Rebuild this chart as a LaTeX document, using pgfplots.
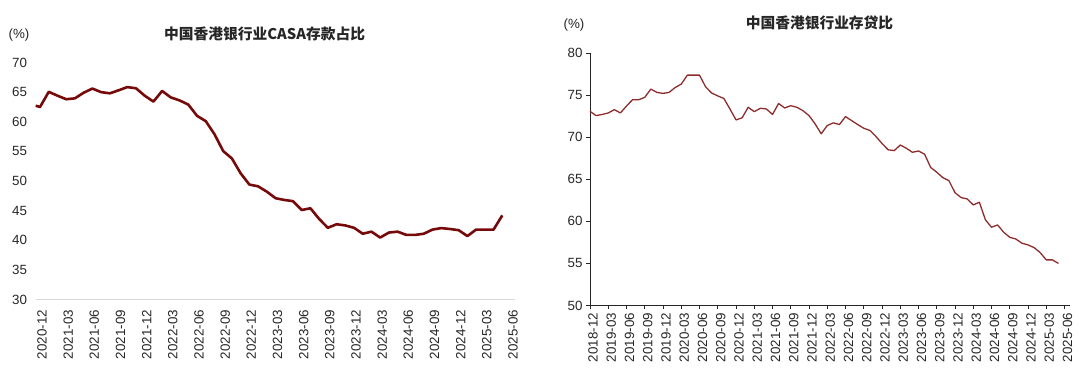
\documentclass[border=0pt]{standalone}
\usepackage{pgfplots}
\pgfplotsset{compat=1.18}
\usepackage{fontspec}
\setmainfont{Liberation Sans}
\newfontfamily\cjk{Noto Sans CJK SC}
\definecolor{leftline}{HTML}{760A0A}
\definecolor{rightline}{HTML}{8E2C2C}
\definecolor{txt}{HTML}{262626}
\pgfplotstableread{
x y
-0.5 62.7
0 62.5
1 65.05
2 64.4
3 63.8
4 63.95
5 64.9
6 65.6
7 65.0
8 64.8
9 65.3
10 65.85
11 65.65
12 64.4
13 63.4
14 65.2
15 64.1
16 63.6
17 62.9
18 61.0
19 60.1
20 57.9
21 55.05
22 53.8
23 51.3
24 49.4
25 49.1
26 48.2
27 47.1
28 46.8
29 46.6
30 45.1
31 45.4
32 43.6
33 42.1
34 42.7
35 42.5
36 42.1
37 41.1
38 41.45
39 40.45
40 41.3
41 41.45
42 40.9
43 40.9
44 41.1
45 41.8
46 42.05
47 41.9
48 41.7
49 40.7
50 41.8
51 41.8
52 41.8
53 44.2
}\casa
\pgfplotstableread{
x y
0 73.07
1 72.56
2 72.7
3 72.88
4 73.27
5 72.88
6 73.7
7 74.45
8 74.45
9 74.73
10 75.71
11 75.32
12 75.2
13 75.32
14 75.9
15 76.3
16 77.37
17 77.37
18 77.37
19 75.98
20 75.24
21 74.9
22 74.6
23 73.35
24 72.05
25 72.3
26 73.55
27 73.03
28 73.43
29 73.35
30 72.7
31 74.0
32 73.47
33 73.74
34 73.55
35 73.15
36 72.56
37 71.58
38 70.4
39 71.38
40 71.7
41 71.5
42 72.44
43 71.97
44 71.5
45 71.06
46 70.8
47 70.08
48 69.25
49 68.5
50 68.4
51 69.07
52 68.68
53 68.2
54 68.36
55 67.97
56 66.4
57 65.83
58 65.19
59 64.83
60 63.4
61 62.82
62 62.66
63 61.95
64 62.27
65 60.17
66 59.3
67 59.57
68 58.7
69 58.1
70 57.9
71 57.4
72 57.2
73 56.88
74 56.28
75 55.42
76 55.42
77 55.0
}\ldr
\begin{document}
\begin{tikzpicture}
\path[use as bounding box] (0bp,0bp) rectangle (1080bp,371bp);
\begin{axis}[
  at={(35.5bp,71.5bp)}, anchor=south west,
  scale only axis, width=479bp, height=237bp,
  xmin=-0.52, xmax=54.4, ymin=30, ymax=70,
  xtick={0,3,...,54},
  xticklabels={2020-12,2021-03,2021-06,2021-09,2021-12,2022-03,2022-06,2022-09,2022-12,2023-03,2023-06,2023-09,2023-12,2024-03,2024-06,2024-09,2024-12,2025-03,2025-06},
  ytick={30,35,...,70},
  axis line style={draw=none},
  tick style={draw=none},
  major tick length=0pt,
  clip=false,
  /pgf/number format/assume math mode=true,
  tick label style={font=\fontsize{13.4}{15}\selectfont, text=txt},
  x tick label style={xshift=2bp, yshift=-7bp, rotate=90, anchor=east},
  y tick label style={xshift=-5bp},
  extra y ticks={30}, extra y tick labels={},
  extra y tick style={grid=major, major grid style={draw=black!15, line width=1.3bp}},
]
\addplot[leftline, line width=2.6bp, line join=round] table[x=x,y=y] {\casa};
\end{axis}
\begin{axis}[
  at={(590bp,65.5bp)}, anchor=south west,
  scale only axis, width=480bp, height=252.5bp,
  xmin=0, xmax=78.9, ymin=50, ymax=80,
  axis lines=left,
  axis line style={-, draw=black!85, line width=0.9bp},
  tick align=outside, major tick length=4bp,
  tick style={draw=black!85, line width=0.8bp},
  xtick={0,3,...,78},
  xticklabels={2018-12,2019-03,2019-06,2019-09,2019-12,2020-03,2020-06,2020-09,2020-12,2021-03,2021-06,2021-09,2021-12,2022-03,2022-06,2022-09,2022-12,2023-03,2023-06,2023-09,2023-12,2024-03,2024-06,2024-09,2024-12,2025-03,2025-06},
  ytick={50,55,...,80},
  clip=false,
  /pgf/number format/assume math mode=true,
  tick label style={font=\fontsize{13.4}{15}\selectfont, text=txt},
  x tick label style={xshift=3bp, rotate=90, anchor=east},
]
\addplot[rightline, line width=1.3bp, line join=round] table[x=x,y=y] {\ldr};
\end{axis}
\node[font=\cjk\bfseries\fontsize{14.8}{16}\selectfont, text=txt] at (264.6bp,337.4bp) {中国香港银行业CASA存款占比};
\node[font=\fontsize{13.4}{15}\selectfont, text=txt] at (19bp,336bp) {(\%)};
\node[font=\cjk\bfseries\fontsize{14.8}{16}\selectfont, text=txt] at (819.5bp,348.5bp) {中国香港银行业存贷比};
\node[font=\fontsize{13.4}{15}\selectfont, text=txt] at (574bp,346bp) {(\%)};
\end{tikzpicture}
\end{document}
